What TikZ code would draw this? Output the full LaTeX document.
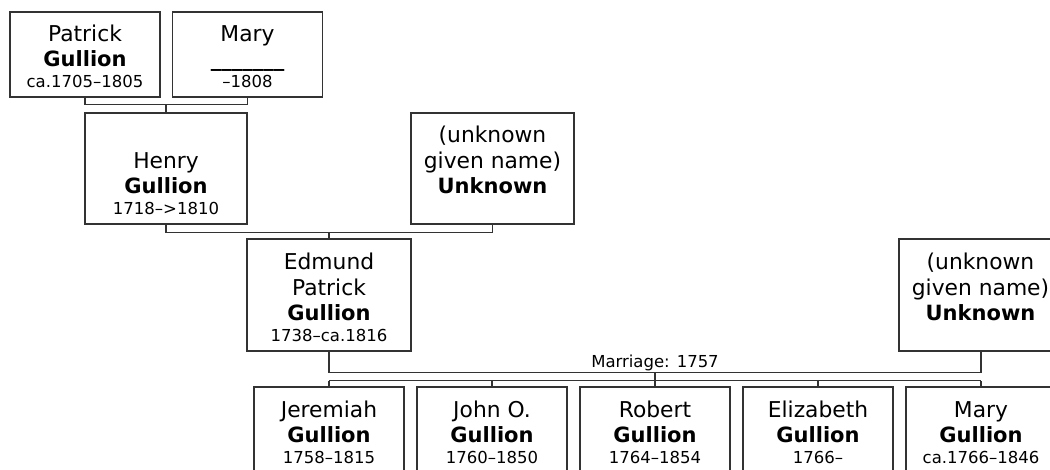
\documentclass[tikz,border=0pt]{standalone}
\usepackage{fontspec}
\setmainfont{DejaVu Sans}
\usetikzlibrary{calc}
\newcommand\nameblock[2]{\begin{tabular}[b]{@{}c@{}}#1\\{\fontsize{21}{25.5}\selectfont\bfseries #2}\end{tabular}}

\begin{document}
\begin{tikzpicture}[x=1pt,y=-1pt,
  person/.style={draw=black!80,line width=1.2pt,minimum width=150pt,inner sep=0pt},
  names/.style={anchor=base,inner sep=0pt,font=\fontsize{21.8}{25.5}\selectfont},
  dates/.style={anchor=base,inner sep=0pt,font=\fontsize{16.5}{19}\selectfont},
  link/.style={draw=black!80,line width=1.2pt}]
\clip (0,0) rectangle (1050,470);

% Boxes of the four generations
\node[person,minimum height=85pt] (patrick) at (85,54.5) {};
\node[person,minimum height=85pt] (mary) at (247.5,54.5) {};
\node[person,minimum width=162pt,minimum height=111pt] (henry) at (166,168.5) {};
\node[person,minimum width=163pt,minimum height=111pt] (unknownA) at (492.5,168.5) {};
\node[person,minimum width=164pt,minimum height=112pt] (edmund) at (329,295) {};
\node[person,minimum width=163pt,minimum height=112pt] (unknownB) at (980.5,295) {};
\node[person,minimum height=86pt] (jeremiah) at (329,430) {};
\node[person,minimum height=86pt] (john) at (492,430) {};
\node[person,minimum height=86pt] (robert) at (655,430) {};
\node[person,minimum height=86pt] (elizabeth) at (818,430) {};
\node[person,minimum height=86pt] (maryG) at (981,430) {};

% Names sit on the surname line, dates on the bottom line
\node[names] (patrickN) at ([yshift=31pt]patrick.south) {\nameblock{Patrick}{Gullion}};
\node[dates] (patrickD) at ([yshift=10.5pt]patrick.south) {ca.1705--1805};
\node[names] (maryN) at ([yshift=31pt]mary.south) {\nameblock{Mary}{\_\_\_\_\_\_\_}};
\node[dates] (maryD) at ([yshift=10.5pt]mary.south) {--1808};
\node[names] (henryN) at ([yshift=31pt]henry.south) {\nameblock{Henry}{Gullion}};
\node[dates] (henryD) at ([yshift=10.5pt]henry.south) {1718--{>}1810};
\node[names] (unknownAN) at ([yshift=31pt]unknownA.south) {\nameblock{(unknown\\given name)}{Unknown}};
\node[names] (edmundN) at ([yshift=31pt]edmund.south) {\nameblock{Edmund\\Patrick}{Gullion}};
\node[dates] (edmundD) at ([yshift=10.5pt]edmund.south) {1738--ca.1816};
\node[names] (unknownBN) at ([yshift=31pt]unknownB.south) {\nameblock{(unknown\\given name)}{Unknown}};
\node[names] (jeremiahN) at ([yshift=31pt]jeremiah.south) {\nameblock{Jeremiah}{Gullion}};
\node[dates] (jeremiahD) at ([yshift=10.5pt]jeremiah.south) {1758--1815};
\node[names] (johnN) at ([yshift=31pt]john.south) {\nameblock{John O.}{Gullion}};
\node[dates] (johnD) at ([yshift=10.5pt]john.south) {1760--1850};
\node[names] (robertN) at ([yshift=31pt]robert.south) {\nameblock{Robert}{Gullion}};
\node[dates] (robertD) at ([yshift=10.5pt]robert.south) {1764--1854};
\node[names] (elizabethN) at ([yshift=31pt]elizabeth.south) {\nameblock{Elizabeth}{Gullion}};
\node[dates] (elizabethD) at ([yshift=10.5pt]elizabeth.south) {1766--};
\node[names] (maryGN) at ([yshift=31pt]maryG.south) {\nameblock{Mary}{Gullion}};
\node[dates] (maryGD) at ([yshift=10.5pt]maryG.south) {ca.1766--1846};

% Parents of Henry
\coordinate (bar0) at ($(patrick.south)+(0,7)$);
\draw[link] (patrick.south) -- (bar0) -| (mary.south);
\draw[link] (henry.north) -- (henry.north |- bar0);

% Parents of Edmund
\coordinate (bar1) at ($(henry.south)+(0,8)$);
\draw[link] (henry.south) -- (bar1) -| (unknownA.south);
\draw[link] (edmund.north) -- (edmund.north |- bar1);

% Marriage line and the children
\coordinate (bar2) at ($(edmund.south)+(0,21)$);
\draw[link] (edmund.south) -- (bar2) -| (maryG.north |- unknownB.south);
\coordinate (wed) at ($(bar2)!.5!(bar2 -| maryG.north)$);
\node[dates] (marriage) at ([yshift=5pt]wed) {Marriage: 1757};
\coordinate (bar3) at ($(wed)+(0,8)$);
\draw[link] (wed) -- (bar3);
\draw[link] (jeremiah.north |- bar3) -- (maryG.north |- bar3);
\foreach \c in {jeremiah,john,robert,elizabeth,maryG}
  \draw[link] (\c.north) -- (\c.north |- bar3);

\end{tikzpicture}
\end{document}
